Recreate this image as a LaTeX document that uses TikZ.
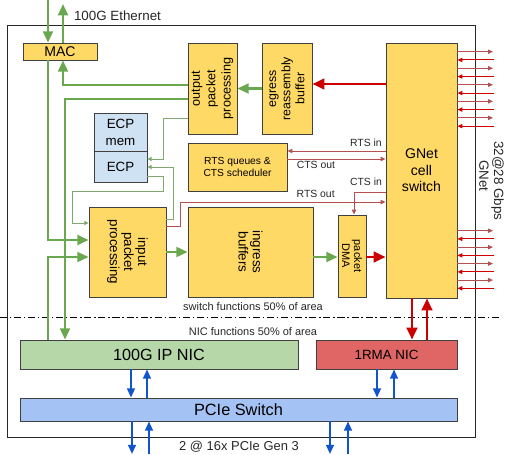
\documentclass[tikz,border=0pt]{standalone}
\usepackage{fontspec}
\setmainfont{Liberation Sans}
\usetikzlibrary{arrows.meta,positioning}

\definecolor{boxyellow}{HTML}{FFD966}
\definecolor{ecpblue}{HTML}{CFE2F3}
\definecolor{nicgreen}{HTML}{B6D7A8}
\definecolor{nicred}{HTML}{E06666}
\definecolor{pcieblue}{HTML}{A4C2F4}
\definecolor{lgreen}{HTML}{6AA84F}
\definecolor{tgreen}{HTML}{82A872}
\definecolor{dred}{HTML}{CC0000}
\definecolor{sred}{HTML}{B5504E}
\definecolor{lred}{HTML}{D40000}
\definecolor{dblue}{HTML}{1155CC}

\begin{document}
\begin{tikzpicture}[x=0.025cm, y=-0.025cm,
	blk/.style={rectangle, draw=black!75, line width=0.6pt, fill=boxyellow, inner sep=0pt, align=center, font=\fontsize{9.5}{10}\selectfont},
	sz/.style 2 args={minimum width=#1*0.025cm, minimum height=#2*0.025cm},
	lbl/.style={inner sep=1pt, text=black!85},
	gthick/.style={draw=lgreen, line width=1.6pt, -{Triangle[length=8pt,width=7pt]}},
	gthin/.style={draw=tgreen, line width=0.7pt, -{Triangle[length=3pt,width=3pt]}},
	rthick/.style={draw=dred, line width=2pt, -{Triangle[length=8.5pt,width=7.5pt]}},
	rthin/.style={draw=sred, line width=0.7pt, -{Triangle[length=3.5pt,width=3pt]}},
	bthick/.style={draw=dblue, line width=1.4pt, -{Triangle[length=6.5pt,width=5.5pt]}}]

	\useasboundingbox (0,0) rectangle (506,454);
	\draw[line width=0.7pt, black!85] (7,25) rectangle (475,437);

	% Blocks
	\node (mac) [blk, sz={74}{17}, font=\fontsize{10}{12}\selectfont] at (60,51.5) {MAC};
	\node (outpp) [blk, sz={91}{49}, rotate=90, font=\fontsize{9}{11}\selectfont] at (212.5,88.5) {output\\packet\\processing};
	\node (egress) [blk, sz={91}{50}, rotate=90, font=\fontsize{8.8}{10}\selectfont] at (287,88.5) {egress\\reassembly\\buffer};
	\node (gnet) [blk, sz={71}{255}, font=\fontsize{10}{11.7}\selectfont] at (421.5,170.5) {GNet\\cell\\switch};
	\node (ecpmem) [blk, fill=ecpblue, sz={53}{38}, font=\fontsize{9.5}{12}\selectfont] at (120.5,132) {ECP\\mem};
	\node (ecp) [blk, fill=ecpblue, sz={53}{31}, below=0pt of ecpmem] {ECP};
	\node (rts) [blk, sz={99}{48}, font=\fontsize{7.3}{9}\selectfont] at (237.5,167) {RTS queues \&\\CTS scheduler};
	\node (inpp) [blk, sz={90}{77}, rotate=-90] at (127.5,252) {input\\packet\\processing};
	\node (ingress) [blk, sz={90}{125}, rotate=-90] at (250.5,252) {ingress\\buffers};
	\node (dma) [blk, sz={82}{28}, rotate=-90, font=\fontsize{7.8}{8.5}\selectfont] at (352,256) {packet\\DMA};
	\node (ipnic) [blk, fill=nicgreen, sz={278}{29}, font=\fontsize{11.5}{13}\selectfont] at (159,354.5) {100G IP NIC};
	\node (rmanic) [blk, fill=nicred, sz={141}{29}] at (386.5,354.5) {1RMA NIC};
	\node (pcie) [blk, fill=pcieblue, sz={437}{23}, font=\fontsize{11.6}{13}\selectfont] at (238.5,409.5) {PCIe Switch};

	% Labels
	\node (ethlbl) [lbl, font=\fontsize{9.5}{11}\selectfont] at (117.5,16) {100G Ethernet};
	\node (swlbl) [lbl, font=\fontsize{7.8}{9}\selectfont] at (253,307) {switch functions 50\% of area};
	\node (niclbl) [lbl, font=\fontsize{7.8}{9}\selectfont] at (253,332) {NIC functions 50\% of area};
	\node (hostlbl) [lbl, font=\fontsize{9.2}{11}\selectfont] at (239,447) {2 @ 16x PCIe Gen 3};
	\node (gnetlbl) [lbl, rotate=-90, font=\fontsize{9.5}{12}\selectfont] at (484,176) {GNet};
	\node (ratelbl) [lbl, rotate=-90, font=\fontsize{9.5}{12}\selectfont] at (497.5,181) {32@28 Gbps};

	\coordinate (cutl) at (0,317);
	\coordinate (cutr) at (500,317);
	\draw[line width=0.6pt, dash pattern=on 5pt off 2pt on 1pt off 2pt] (cutl) -- (cutr);

	% Arrows
	\coordinate (ethin) at (48,0);
	\coordinate (ethout) at (63,4);
	\draw[gthick] (ethin) -- (ethin |- mac.north);
	\draw[gthick] (ethout |- mac.north) -- (ethout);
	\draw[gthick] (48,0 |- mac.south) |- (inpp.south |- 0,240);
	\draw[gthick] (48,0 |- ipnic.north) |- (inpp.south |- 0,257);
	\draw[gthick] (outpp.north |- 0,85) -| (63,0 |- mac.south);
	\draw[gthick] (outpp.north |- 0,99) -| (65,0 |- ipnic.north);
	\draw[gthick] (egress) -- (outpp);
	\draw[gthick] (inpp) -- (ingress);
	\draw[gthick] (ingress.north |- 0,257) -- (dma.south |- 0,257);
	\draw[rthick] (gnet.west |- 0,84) -- (egress.south |- 0,84);
	\draw[rthick] (dma.north |- 0,257) -- (gnet.west |- 0,257);

	\draw[gthin] (outpp.north |- 0,118) -| (163,159) -- (ecp.east |- 0,159);
	\draw[gthin] (inpp.north |- 0,219) -| (173,167) -- (ecp.east |- 0,167);
	\draw[gthin] (ecp.east |- 0,176) -| (163,191) -| (72,223) -- (inpp.south |- 0,223);

	\draw[rthin] (gnet.west |- 0,151) -- node[lbl, above=1.5pt, pos=0.2, font=\fontsize{7.4}{9}\selectfont] (rtsinlbl) {RTS in} (rts.east |- 0,151);
	\draw[rthin] (rts.east |- 0,159) -- node[lbl, below, pos=0.29, font=\fontsize{7.4}{9}\selectfont] (ctsoutlbl) {CTS out} (gnet.west |- 0,159);
	\draw[rthin] (gnet.west |- 0,192) -| (354,0 |- dma.west);
	\node (ctsinlbl) [lbl, font=\fontsize{7.4}{9}\selectfont] at (366,182) {CTS in};
	\draw[rthin] (inpp.north |- 0,226) -| (180,202) -- node[lbl, above=1.5pt, pos=0.66, font=\fontsize{7.4}{9}\selectfont] (rtsoutlbl) {RTS out} (gnet.west |- 0,202);

	\foreach \i in {0,...,9} {
		\pgfmathsetmacro{\yy}{51.7+8.27*\i}
		\ifodd\i
			\draw[rthin, draw=lred] (494,\yy) -- (gnet.east |- 0,\yy);
		\else
			\draw[rthin] (gnet.east |- 0,\yy) -- (493,\yy);
		\fi
	}
	\foreach \i in {0,...,7} {
		\pgfmathsetmacro{\yy}{230.7+8.23*\i}
		\ifodd\i
			\draw[rthin, draw=lred] (494,\yy) -- (gnet.east |- 0,\yy);
		\else
			\draw[rthin] (gnet.east |- 0,\yy) -- (493,\yy);
		\fi
	}

	\draw[rthick] (412,0 |- gnet.south) -- (412,0 |- rmanic.north);
	\draw[rthick] (427,0 |- rmanic.north) -- (427,0 |- gnet.south);

	\draw[bthick] (131,0 |- ipnic.south) -- (131,0 |- pcie.north);
	\draw[bthick] (147,0 |- pcie.north) -- (147,0 |- ipnic.south);
	\draw[bthick] (377,0 |- rmanic.south) -- (377,0 |- pcie.north);
	\draw[bthick] (394,0 |- pcie.north) -- (394,0 |- rmanic.south);

	\coordinate (hosta) at (132,454);
	\coordinate (hostb) at (149,454);
	\coordinate (hostc) at (330,454);
	\coordinate (hostd) at (348,454);
	\draw[bthick] (hosta |- pcie.south) -- (hosta);
	\draw[bthick] (hostb) -- (hostb |- pcie.south);
	\draw[bthick] (hostc |- pcie.south) -- (hostc);
	\draw[bthick] (hostd) -- (hostd |- pcie.south);
\end{tikzpicture}
\end{document}
